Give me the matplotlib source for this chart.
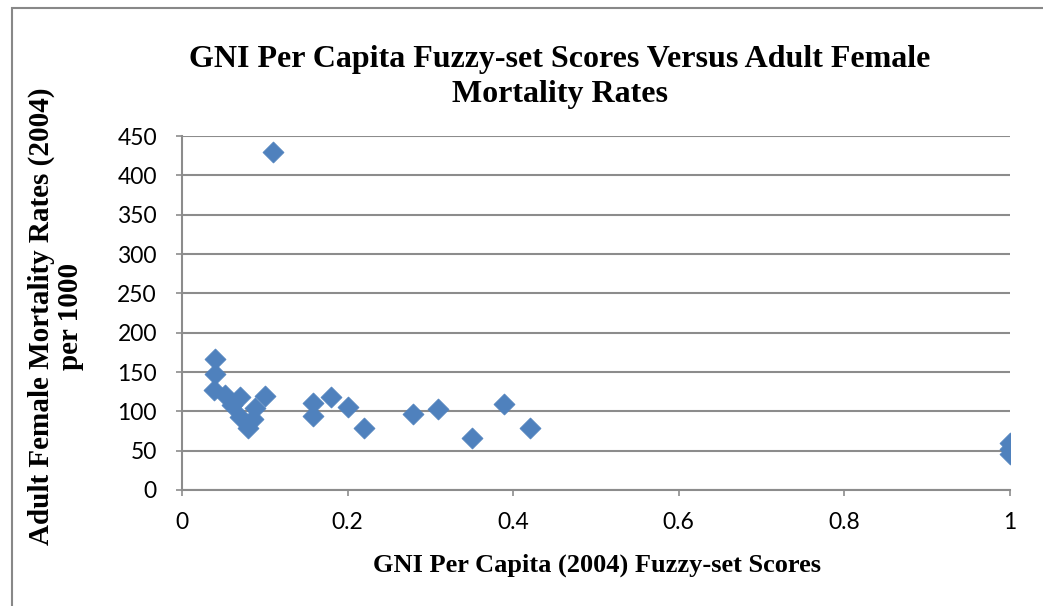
import matplotlib.pyplot as plt
from matplotlib.patches import Rectangle

# GNI per capita fuzzy-set score vs adult female mortality (per 1000)
gni_scores = [0.11, 0.04, 0.04, 0.039, 0.052, 0.07, 0.10, 0.06, 0.088, 0.07, 0.086, 0.08,
              0.158, 0.158, 0.18, 0.20, 0.22, 0.279, 0.309, 0.35, 0.389, 0.42,
              1.0, 1.0, 1.0]
mortality = [430, 167, 147, 127, 121, 118, 120, 108, 104, 93, 90, 79,
             110, 94, 118, 106, 79, 96, 103, 66, 109, 79,
             60, 52, 46]

x_ticks = [0, 0.2, 0.4, 0.6, 0.8, 1]
x_tick_labels = ['0', '0.2', '0.4', '0.6', '0.8', '1']
y_ticks = list(range(0, 451, 50))

W, H = 1043, 606
fig = plt.figure(figsize=(W / 100, H / 100), dpi=100)
ax = fig.add_axes([182 / W, 1 - 490 / H, (1010 - 182) / W, (490 - 136) / H])

# outer chart-area border (only left/top visible)
fig.patches.append(Rectangle((12 / W, -0.05), 1.1, 1 - 8 / H + 0.05,
                             transform=fig.transFigure, fill=False,
                             edgecolor='#888888', linewidth=1.5))

ax.scatter(gni_scores, mortality, marker='D', s=115, color='#4F81BD',
           edgecolors='#4F81BD', linewidths=0.5, zorder=3)

ax.set_xlim(0, 1)
ax.set_ylim(0, 450)
ax.set_xticks(x_ticks)
ax.set_xticklabels(x_tick_labels)
ax.set_yticks(y_ticks)
ax.grid(axis='y', color='#8c8c8c', linewidth=1.5)
ax.set_axisbelow(True)

for side in ['top', 'right']:
    ax.spines[side].set_visible(False)
for side in ['left', 'bottom']:
    ax.spines[side].set_color('#8c8c8c')
    ax.spines[side].set_linewidth(1.5)

ax.tick_params(axis='both', colors='#8c8c8c', length=4, width=1.2,
               labelcolor='black', labelsize=16.5)
ax.tick_params(axis='y', pad=14)
ax.tick_params(axis='x', pad=12)
for lbl in ax.get_xticklabels() + ax.get_yticklabels():
    lbl.set_fontfamily('Lato')

serif = 'Liberation Serif'
fig.text(560 / W, 1 - 77 / H,
         'GNI Per Capita Fuzzy-set Scores Versus Adult Female\nMortality Rates',
         ha='center', va='center', fontsize=23, fontweight='bold',
         family=serif, linespacing=1.3)
fig.text(56 / W, 1 - 316 / H, 'Adult Female Mortality Rates (2004)\nper 1000',
         ha='center', va='center', rotation=90, fontsize=21,
         fontweight='bold', family=serif, linespacing=1.1)
fig.text(597 / W, 1 - 565 / H, 'GNI Per Capita (2004) Fuzzy-set Scores',
         ha='center', va='center', fontsize=19, fontweight='bold', family=serif)

fig.savefig('out.png', dpi=100)
